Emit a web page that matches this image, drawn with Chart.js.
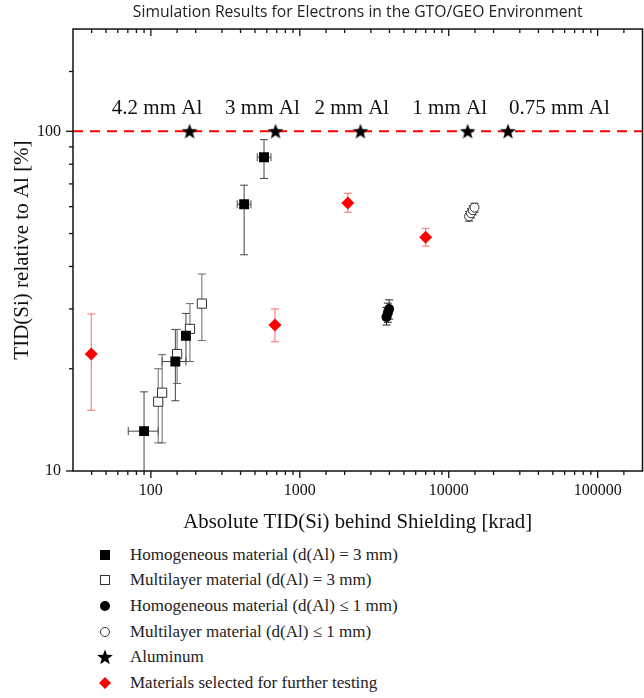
<!DOCTYPE html>
<html>
<head>
<meta charset="utf-8">
<script src="https://cdn.jsdelivr.net/npm/chart.js@4.4.0/dist/chart.umd.min.js"></script>
<style>
  body { margin: 0; background: #fff; }
  #wrap { position: relative; width: 644px; height: 698px; }
  #chart { position: absolute; left: 0; top: 0; }
  #legend { position: absolute; left: 95px; top: 542px; font-family: "Liberation Serif", "Times New Roman", serif; font-size: 17px; color: #222; }
  .row { display: flex; align-items: center; height: 25.6px; white-space: nowrap; }
  .mk { width: 20px; height: 20px; display: flex; justify-content: center; align-items: center; margin-right: 15px; }
</style>
</head>
<body>
<div id="wrap">
  <canvas id="chart" width="644" height="535"></canvas>
  <div id="legend">
    <div class="row"><span class="mk"><svg width="14" height="14"><rect x="2" y="2" width="10" height="10" fill="#000"/></svg></span>Homogeneous material (d(Al) = 3 mm)</div>
    <div class="row"><span class="mk"><svg width="14" height="14"><rect x="2.5" y="2.5" width="9" height="9" fill="#fff" stroke="#333" stroke-width="1"/></svg></span>Multilayer material (d(Al) = 3 mm)</div>
    <div class="row"><span class="mk"><svg width="14" height="14"><circle cx="7" cy="7" r="5" fill="#000"/></svg></span>Homogeneous material (d(Al) ≤ 1 mm)</div>
    <div class="row"><span class="mk"><svg width="14" height="14"><circle cx="7" cy="7" r="4.5" fill="#fff" stroke="#333" stroke-width="1"/></svg></span>Multilayer material (d(Al) ≤ 1 mm)</div>
    <div class="row"><span class="mk"><svg width="18" height="18"><polygon id="legStar" fill="#000"/></svg></span>Aluminum</div>
    <div class="row"><span class="mk"><svg width="14" height="14"><polygon points="7,1 13,7 7,13 1,7" fill="#f00"/></svg></span>Materials selected for further testing</div>
  </div>
</div>
<script>
// aluminum reference points and their labels
const starX = [182, 687, 2555, 13400, 25000];
const starY = [100, 100, 100, 100, 100];
const alLabels = ['4.2 mm Al', '3 mm Al', '2 mm Al', '1 mm Al', '0.75 mm Al'];
const alLabelX = [110, 561, 2234, 10140, 55300];
const alLabelY = 117;
const refLineX = [30, 200000];
const refLineY = [100, 100];

// homogeneous material, d(Al) = 3 mm
const homoX = [90, 146, 172, 423, 575];
const homoY = [13.1, 21.0, 25.0, 61.0, 83.9];
const homoYLo = [8, 16.1, 21.0, 43.3, 72.6];
const homoYHi = [17.1, 26.1, 29.1, 69.4, 94.5];
const homoXLo = [70.5, 119, 172, 380, 518];
const homoXHi = [112, 172, 172, 470, 640];

// multilayer material, d(Al) = 3 mm
const multiX = [112, 119, 150, 183, 220];
const multiY = [16.0, 17.0, 22.1, 26.2, 31.1];
const multiYLo = [12.1, 12.1, 18.1, 21.0, 24.2];
const multiYHi = [20.0, 22.0, 26.1, 31.1, 38.0];

// homogeneous material, d(Al) <= 1 mm
const homoThinX = [3820, 3900, 3980];
const homoThinY = [28.4, 29.2, 30.0];
const homoThinYLo = [26.9, 27.4, 28.0];
const homoThinYHi = [30.3, 31.2, 31.9];

// multilayer material, d(Al) <= 1 mm
const multiThinX = [13700, 14100, 14500, 14900];
const multiThinY = [56.2, 57.4, 58.6, 59.6];
const multiThinYLo = [54.4, 55.6, 56.8, 57.8];
const multiThinYHi = [58.0, 59.2, 60.4, 61.4];

// materials selected for further testing
const selX = [39.8, 681, 2100, 7000];
const selY = [22.1, 26.9, 61.5, 48.8];
const selYLo = [15.1, 24.0, 57.8, 45.9];
const selYHi = [29.0, 30.0, 65.7, 51.8];

const SERIF = '"Liberation Serif", "Times New Roman", serif';

const isPow10 = (v) => Math.abs(Math.log10(v) - Math.round(Math.log10(v))) < 1e-9;
const pts = (xs, ys) => xs.map((x, i) => ({ x, y: ys[i] }));
const pairs = (lo, hi) => lo.map((l, i) => [l, hi[i]]);

function starPath(cx, cy, ro, ri) {
  const p = [];
  for (let i = 0; i < 10; i++) {
    const r = i % 2 ? ri : ro;
    const a = -Math.PI / 2 + i * Math.PI / 5;
    p.push([cx + r * Math.cos(a), cy + r * Math.sin(a)]);
  }
  return p;
}

// filled five point star used as point style
const starImg = document.createElement('canvas');
starImg.width = 18; starImg.height = 18;
(() => {
  const c = starImg.getContext('2d');
  c.fillStyle = '#000';
  c.beginPath();
  starPath(9, 9.6, 8.2, 3.4).forEach(([x, y], i) => i ? c.lineTo(x, y) : c.moveTo(x, y));
  c.closePath();
  c.fill();
})();
document.getElementById('legStar').setAttribute('points', starPath(9, 9.6, 8.2, 3.4).map(p => p.join(',')).join(' '));

const errorBars = {
  id: 'errorBars',
  beforeDatasetsDraw(chart) {
    const { ctx, chartArea: a, scales: { x, y } } = chart;
    ctx.save();
    ctx.beginPath();
    ctx.rect(a.left, a.top, a.width, a.height);
    ctx.clip();
    ctx.lineWidth = 1;
    const seg = (x1, y1, x2, y2) => { ctx.beginPath(); ctx.moveTo(x1, y1); ctx.lineTo(x2, y2); ctx.stroke(); };
    chart.data.datasets.forEach((ds) => {
      if (!ds.errY) return;
      ctx.strokeStyle = ds.errColor;
      ds.data.forEach((p, i) => {
        const px = x.getPixelForValue(p.x);
        const py = y.getPixelForValue(p.y);
        const yl = y.getPixelForValue(ds.errY[i][0]);
        const yh = y.getPixelForValue(ds.errY[i][1]);
        seg(px, yl, px, yh);
        seg(px - 4, yl, px + 4, yl);
        seg(px - 4, yh, px + 4, yh);
        if (ds.errX && ds.errX[i][0] !== ds.errX[i][1]) {
          const xl = x.getPixelForValue(ds.errX[i][0]);
          const xh = x.getPixelForValue(ds.errX[i][1]);
          seg(xl, py, xh, py);
          seg(xl, py - 4, xl, py + 4);
          seg(xh, py - 4, xh, py + 4);
        }
      });
    });
    ctx.restore();
  }
};

const frameTicks = {
  id: 'frameTicks',
  afterDraw(chart) {
    const { ctx, chartArea: a, scales: { x, y } } = chart;
    ctx.save();
    ctx.strokeStyle = '#111';
    ctx.lineWidth = 1.5;
    ctx.strokeRect(a.left, a.top, a.width, a.height);
    ctx.lineWidth = 1.3;
    const seg = (x1, y1, x2, y2) => { ctx.beginPath(); ctx.moveTo(x1, y1); ctx.lineTo(x2, y2); ctx.stroke(); };
    x.ticks.forEach((t) => {
      const px = x.getPixelForValue(t.value);
      if (px <= a.left + 1 || px >= a.right - 1) return;
      const len = isPow10(t.value) ? 7 : 4;
      seg(px, a.bottom, px, a.bottom + len);
      seg(px, a.top, px, a.top + len);
    });
    y.ticks.forEach((t) => {
      const py = y.getPixelForValue(t.value);
      if (py < a.top + 1) return;
      const len = isPow10(t.value) ? 7 : 4;
      seg(a.left - len, py, a.left, py);
    });
    // thickness labels above the aluminum points
    ctx.fillStyle = '#111';
    ctx.font = '21px ' + SERIF;
    ctx.textAlign = 'center';
    ctx.textBaseline = 'middle';
    alLabels.forEach((txt, i) => {
      ctx.fillText(txt, x.getPixelForValue(alLabelX[i]), y.getPixelForValue(alLabelY));
    });
    ctx.restore();
  }
};

new Chart(document.getElementById('chart'), {
  type: 'scatter',
  data: {
    datasets: [
      {
        label: 'Aluminum',
        data: pts(starX, starY),
        pointStyle: starImg,
        order: 1
      },
      {
        label: 'Materials selected for further testing',
        data: pts(selX, selY),
        pointStyle: 'rectRot',
        pointRadius: 6.5,
        backgroundColor: '#f00',
        borderColor: '#f00',
        borderWidth: 0,
        errY: pairs(selYLo, selYHi),
        errColor: '#ff6a6a',
        order: 2
      },
      {
        label: 'Homogeneous material (d(Al) = 3 mm)',
        data: pts(homoX, homoY),
        pointStyle: 'rect',
        pointRadius: 7,
        backgroundColor: '#000',
        borderColor: '#000',
        borderWidth: 0,
        errY: pairs(homoYLo, homoYHi),
        errX: pairs(homoXLo, homoXHi),
        errColor: '#444',
        order: 3
      },
      {
        label: 'Multilayer material (d(Al) = 3 mm)',
        data: pts(multiX, multiY),
        pointStyle: 'rect',
        pointRadius: 6.5,
        backgroundColor: '#fff',
        borderColor: '#333',
        borderWidth: 1,
        errY: pairs(multiYLo, multiYHi),
        errColor: '#666',
        order: 4
      },
      {
        label: 'Homogeneous material (d(Al) ≤ 1 mm)',
        data: pts(homoThinX, homoThinY),
        pointStyle: 'circle',
        pointRadius: 5,
        backgroundColor: '#000',
        borderColor: '#000',
        borderWidth: 0,
        errY: pairs(homoThinYLo, homoThinYHi),
        errColor: '#222',
        order: 5
      },
      {
        label: 'Multilayer material (d(Al) ≤ 1 mm)',
        data: pts(multiThinX, multiThinY),
        pointStyle: 'circle',
        pointRadius: 4.5,
        backgroundColor: '#fff',
        borderColor: '#333',
        borderWidth: 1,
        errY: pairs(multiThinYLo, multiThinYHi),
        errColor: '#333',
        order: 6
      },
      {
        type: 'line',
        label: 'Al reference',
        data: pts(refLineX, refLineY),
        borderColor: '#f00',
        borderWidth: 2,
        borderDash: [10, 7],
        pointRadius: 0,
        order: 10
      }
    ]
  },
  options: {
    responsive: false,
    animation: false,
    layout: { autoPadding: false, padding: { right: 1.5 } },
    plugins: {
      legend: { display: false },
      tooltip: { enabled: false },
      title: {
        display: true,
        text: 'Simulation Results for Electrons in the GTO/GEO Environment',
        fullSize: false,
        color: '#222',
        font: { family: '"Open Sans", sans-serif', size: 15.7, weight: 'normal' },
        padding: { top: 3, bottom: 7.2 }
      }
    },
    scales: {
      x: {
        type: 'logarithmic',
        min: 30,
        max: 200000,
        afterFit: (s) => { s.height = 64; s.paddingLeft = 0; s.paddingRight = 0; },
        grid: { display: false, drawTicks: false },
        border: { display: false },
        ticks: {
          autoSkip: false,
          maxRotation: 0,
          padding: 10,
          color: '#111',
          font: { family: SERIF, size: 16 },
          callback: (v) => isPow10(v) ? String(v) : ''
        },
        title: {
          display: true,
          text: 'Absolute TID(Si) behind Shielding [krad]',
          color: '#111',
          font: { family: SERIF, size: 20.8 },
          padding: { top: 0, bottom: 0 }
        }
      },
      y: {
        type: 'logarithmic',
        min: 10,
        max: 200,
        afterFit: (s) => { s.width = 73; s.paddingTop = 0; s.paddingBottom = 0; },
        grid: { display: false, drawTicks: false },
        border: { display: false },
        ticks: {
          autoSkip: false,
          padding: 12,
          color: '#111',
          font: { family: SERIF, size: 16 },
          callback: (v) => isPow10(v) ? String(v) : ''
        },
        title: {
          display: true,
          text: 'TID(Si) relative to Al [%]',
          color: '#111',
          font: { family: SERIF, size: 21 },
          padding: { top: 9.5, bottom: 0 }
        }
      }
    }
  },
  plugins: [errorBars, frameTicks]
});
</script>
</body>
</html>
